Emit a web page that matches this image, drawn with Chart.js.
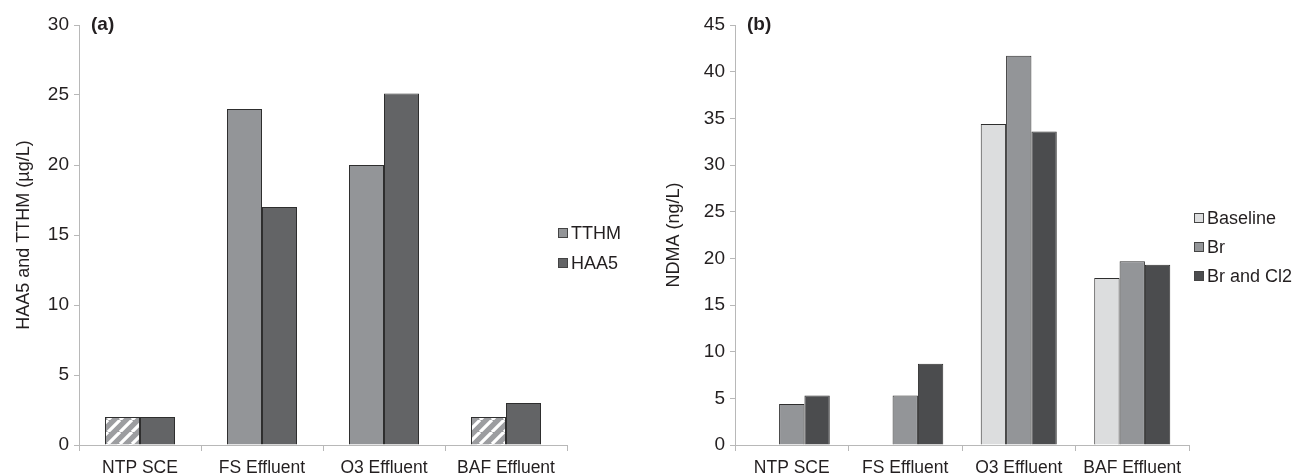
<!DOCTYPE html>
<html>
<head>
<meta charset="utf-8">
<script src="https://cdn.jsdelivr.net/npm/chart.js@4.4.1/dist/chart.umd.min.js"></script>
<style>
  html, body { margin: 0; padding: 0; background: #fff; }
  #wrap { position: relative; width: 1299px; height: 475px; }
  .panel { position: absolute; top: 0; height: 475px; }
  #pa { left: 0; width: 650px; }
  #pb { left: 650px; width: 649px; }
</style>
</head>
<body>
<div id="wrap">
  <div class="panel" id="pa"><canvas id="chartA"></canvas></div>
  <div class="panel" id="pb"><canvas id="chartB"></canvas></div>
</div>
<script>
// Sampling points shared by both panels
const categories = ['NTP SCE', 'FS Effluent', 'O3 Effluent', 'BAF Effluent'];

// Panel (a): disinfection by-products, µg/L
const tthm = [2, 24, 20, 2];
const haa5 = [2, 17, 25.1, 3];
// TTHM results shown hatched (below reporting level)
const tthmHatched = [true, false, false, true];
const ticksA = [0, 5, 10, 15, 20, 25, 30];

// Panel (b): NDMA formation, ng/L
const baseline = [null, null, 34.4, 17.9];
const br = [4.4, 5.3, 41.7, 19.7];
const brCl2 = [5.3, 8.7, 33.6, 19.3];
const ticksB = [0, 5, 10, 15, 20, 25, 30, 35, 40, 45];

const FONT = "'Liberation Sans', Arial, Helvetica, sans-serif";
Chart.defaults.font.family = FONT;
Chart.defaults.color = '#231f20';
Chart.defaults.animation = false;

const C_TTHM = '#939598';
const C_HAA5 = '#636466';
const C_BASE = '#dcddde';
const C_BR = '#939598';
const C_BRCL = '#4b4c4e';
const EDGE = '#2e2e2e';
const AXIS = '#b8b8b8';

// Diagonal white stripes over grey
function makeHatch() {
  const s = 12;
  const c = document.createElement('canvas');
  c.width = s; c.height = s;
  const g = c.getContext('2d');
  g.fillStyle = '#9c9da0';
  g.fillRect(0, 0, s, s);
  g.strokeStyle = '#ffffff';
  g.lineWidth = 3.2;
  g.beginPath();
  for (let k = -1; k <= 1; k++) {
    g.moveTo(k * s, s);
    g.lineTo(k * s + s, 0);
  }
  g.stroke();
  return g.createPattern(c, 'repeat');
}
const hatch = makeHatch();

// Legend drawn beside the plot, from the datasets' labels and colours
const sideLegend = {
  id: 'sideLegend',
  afterDraw(chart, args, opts) {
    const ctx = chart.ctx;
    ctx.save();
    ctx.font = `${opts.size}px ${FONT}`;
    ctx.textBaseline = 'middle';
    ctx.textAlign = 'left';
    chart.data.datasets.forEach((ds, i) => {
      const y = opts.y + i * opts.gap;
      ctx.fillStyle = ds.legendColor;
      ctx.fillRect(opts.x + 0.5, y - 4.5, 9, 9);
      ctx.strokeStyle = '#444';
      ctx.lineWidth = 1;
      ctx.strokeRect(opts.x + 0.5, y - 4.5, 9, 9);
      ctx.fillStyle = '#231f20';
      ctx.fillText(ds.label, opts.x + 13, y + 1);
    });
    ctx.restore();
  }
};

// Bold panel tag in the top-left corner of the plot
const panelTag = {
  id: 'panelTag',
  afterDraw(chart, args, opts) {
    const ctx = chart.ctx;
    ctx.save();
    ctx.font = `bold ${opts.size}px ${FONT}`;
    ctx.fillStyle = '#231f20';
    ctx.textBaseline = 'middle';
    ctx.fillText(opts.text, chart.chartArea.left + opts.dx, chart.chartArea.top + opts.dy);
    ctx.restore();
  }
};

function yScale(max, tickList, title, width) {
  return {
    min: 0, max: max,
    afterFit(s) { s.width = width; },
    afterBuildTicks(s) { s.ticks = tickList.map(v => ({ value: v })); },
    border: { color: AXIS, width: 1 },
    grid: { drawOnChartArea: false, drawTicks: true, tickLength: 5, color: AXIS },
    ticks: { font: { size: 19 }, color: '#231f20', padding: 5 },
    title: { display: true, text: title, font: { size: 18 }, color: '#231f20', padding: { top: 13, bottom: 4 } }
  };
}

function xScale() {
  return {
    afterFit(s) { s.height = 30; },
    border: { color: AXIS, width: 1 },
    grid: { offset: true, drawOnChartArea: false, drawTicks: true, tickLength: 6, color: AXIS },
    ticks: { font: { size: 17.5 }, color: '#231f20', padding: 7, maxRotation: 0, autoSkip: false }
  };
}

function barSet(label, data, fill, legendColor) {
  return {
    label, data,
    backgroundColor: fill,
    legendColor: legendColor,
    borderColor: EDGE,
    borderWidth: 1,
    borderSkipped: 'start'
  };
}

new Chart(document.getElementById('chartA'), {
  type: 'bar',
  data: {
    labels: categories,
    datasets: [
      barSet('TTHM', tthm, tthm.map((v, i) => tthmHatched[i] ? hatch : C_TTHM), C_TTHM),
      barSet('HAA5', haa5, C_HAA5, C_HAA5)
    ]
  },
  options: {
    responsive: true,
    maintainAspectRatio: false,
    layout: { padding: { top: 25, right: 83, bottom: 0, left: 0 } },
    datasets: { bar: { categoryPercentage: 0.574, barPercentage: 1 } },
    plugins: {
      legend: { display: false },
      tooltip: { enabled: false },
      sideLegend: { x: 558, y: 233, gap: 30, size: 18 },
      panelTag: { text: '(a)', size: 19, dx: 12, dy: 0 }
    },
    scales: { x: xScale(), y: yScale(30, ticksA, 'HAA5 and TTHM (µg/L)', 79) }
  },
  plugins: [sideLegend, panelTag]
});

new Chart(document.getElementById('chartB'), {
  type: 'bar',
  data: {
    labels: categories,
    datasets: [
      barSet('Baseline', baseline, C_BASE, C_BASE),
      barSet('Br', br, C_BR, C_BR),
      barSet('Br and Cl2', brCl2, C_BRCL, C_BRCL)
    ]
  },
  options: {
    responsive: true,
    maintainAspectRatio: false,
    layout: { padding: { top: 25, right: 110, bottom: 0, left: 0 } },
    datasets: { bar: { categoryPercentage: 0.67, barPercentage: 1 } },
    plugins: {
      legend: { display: false },
      tooltip: { enabled: false },
      sideLegend: { x: 544, y: 218, gap: 29, size: 18 },
      panelTag: { text: '(b)', size: 19, dx: 12, dy: 0 }
    },
    scales: { x: xScale(), y: yScale(45, ticksB, 'NDMA (ng/L)', 85) }
  },
  plugins: [sideLegend, panelTag]
});
</script>
</body>
</html>
